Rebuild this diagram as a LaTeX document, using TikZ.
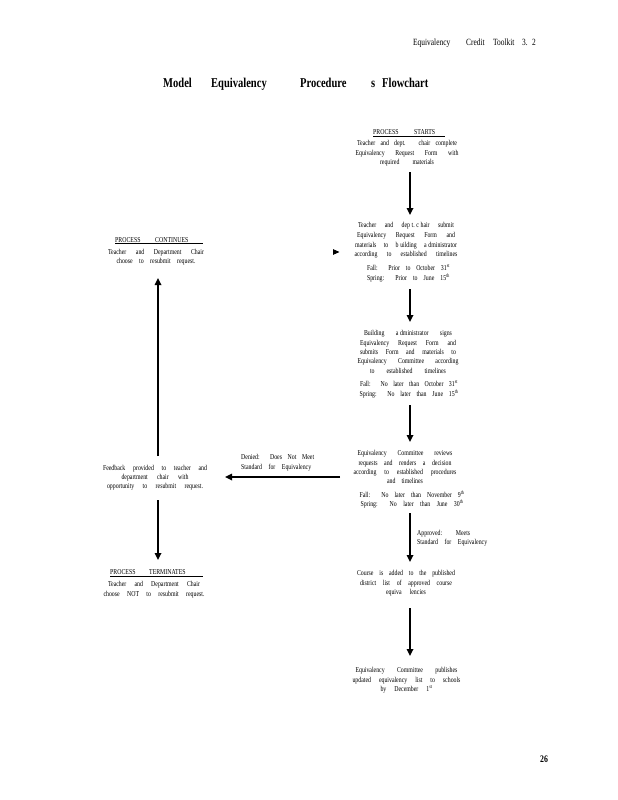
\documentclass[tikz,border=0pt]{standalone}
\usepackage{fontspec}
\setmainfont{Liberation Serif}[FakeStretch=0.78]
\usetikzlibrary{arrows.meta}
\newcommand\jline[2]{\makebox[#1pt][s]{#2}}
\newcommand\gp{\hspace{1.6pt}}
\tikzset{
  txt/.style={inner sep=0pt, align=center, anchor=north, font=\fontsize{7.5}{#1}\selectfont},
  txt/.default=9.5,
  ltxt/.style={inner sep=0pt, align=left, anchor=north west, font=\fontsize{7.5}{#1}\selectfont},
  ltxt/.default=9.5,
  head/.style={inner sep=0pt, anchor=base west, font=\fontsize{7.5}{9}\selectfont},
  uline/.style={line width=0.8pt},
  arr/.style={line width=1.6pt, -{Triangle[length=7pt,width=6.5pt]}},
  word/.style={inner sep=0pt, anchor=base west},
}
\begin{document}
\begin{tikzpicture}[x=1pt,y=-1pt]
\fill[white] (0,0) rectangle (618,800);
\useasboundingbox (0,0) rectangle (618,800);

% running header
\node[word, font=\fontsize{9.5}{11}\selectfont] (h1) at (413,46) {Equivalency};
\node[word, font=\fontsize{9.5}{11}\selectfont] (h2) at (466,46) {Credit};
\node[word, font=\fontsize{9.5}{11}\selectfont] (h3) at (493,46) {Toolkit};
\node[word, font=\fontsize{9.5}{11}\selectfont] (h4) at (522,46) {3.};
\node[word, font=\fontsize{9.5}{11}\selectfont] (h5) at (532,46) {2};

% title
\node[word, font=\fontsize{13.5}{15}\bfseries] (t1) at (163,88) {Model};
\node[word, font=\fontsize{13.5}{15}\bfseries] (t2) at (211,88) {Equivalency};
\node[word, font=\fontsize{13.5}{15}\bfseries] (t3) at (300,88) {Procedure};
\node[word, font=\fontsize{13.5}{15}\bfseries] (t4) at (371,88) {s};
\node[word, font=\fontsize{13.5}{15}\bfseries] (t5) at (382,88) {Flowchart};

% page number
\node[word, font=\fontsize{10}{12}\bfseries] (pg) at (540,762) {26};

% ---------- right column ----------
\node[head] (hs) at (373,134.5) {\makebox[41pt][l]{PROCESS}STARTS};
\draw[uline] (hs.base west) ++(0,1.5) -- ++(72,0);
\node[txt=9.5] (b1) at (407,140.4) {\jline{100}{Teacher and dept. chair complete}\\
  \jline{103}{Equivalency Request Form with}\\ \jline{54}{required materials}};

\node[txt=9.7] (b2) at (406,222.4) {\jline{96}{Teacher and dep\gp t.\gp c\gp hair submit}\\
  \jline{98}{Equivalency Request Form and}\\
  \jline{102}{materials to b\gp uilding a\gp dministrator}\\
  \jline{103}{according to established timelines}};
\node[txt=10] (f2) at (408.5,264.4) {\jline{83}{Fall: Prior to October 31\textsuperscript{st}}\\
  \jline{83}{Spring: Prior to June 15\textsuperscript{th}}};

\node[txt=9.3] (b3) at (408,330.4) {\jline{88}{Building a\gp dministrator signs}\\
  \jline{96}{Equivalency Request Form and}\\
  \jline{96}{submits Form and materials to}\\
  \jline{101}{Equivalency Committee according}\\
  \jline{76}{to established timelines}};
\node[txt=9.5] (f3) at (409,380.4) {\jline{98}{Fall: No later than October 31\textsuperscript{st}}\\
  \jline{99}{Spring: No later than June 15\textsuperscript{th}}};

\node[txt=9.3] (b4) at (405,450.4) {\jline{95}{Equivalency Committee reviews}\\
  \jline{93}{requests and renders a decision}\\
  \jline{103}{according to established procedures}\\
  \jline{36}{and timelines}};
\node[txt=9.2] (f4) at (412,490.4) {\jline{105}{Fall: No later than November 9\textsuperscript{th}}\\
  \jline{103}{Spring: No later than June 30\textsuperscript{th}}};

\node[ltxt=8.7] (ap) at (417,530.4) {\jline{53}{Approved: Meets}\\ \jline{70}{Standard for Equivalency}};

\node[txt=9.5] (b5) at (406,570.4) {\jline{98}{Course is added to the published}\\
  \jline{92}{district list of approved course}\\
  \jline{40}{equiva lencies}};

\node[txt=9.2] (b6) at (406.5,667.4) {\jline{102}{Equivalency Committee publishes}\\
  \jline{108}{updated equivalency list to schools}\\
  \jline{52}{by December 1\textsuperscript{st}}};

% ---------- left column ----------
\node[head] (hc) at (115,242) {\makebox[40pt][l]{PROCESS}CONTINUES};
\draw[uline] (hc.base west) ++(0,1.8) -- ++(88,0);
\node[txt=8.6] (lc) at (156,249.4) {\jline{96}{Teacher and Department Chair}\\
  \jline{79}{choose to resubmit request.}};

\node[txt=8.7] (fb) at (155,465.4) {\jline{104}{Feedback provided to teacher and}\\
  \jline{67}{department chair with}\\
  \jline{96}{opportunity to resubmit request.}};

\node[ltxt=10] (dn) at (241,454.4) {\jline{73}{Denied: Does Not Meet}\\ \jline{70}{Standard for Equivalency}};

\node[head] (ht) at (110,574.5) {\makebox[39pt][l]{PROCESS}TERMINATES};
\draw[uline] (ht.base west) ++(0,2) -- ++(93,0);
\node[txt=10] (lt) at (154,581.4) {\jline{92}{Teacher and Department Chair}\\
  \jline{101}{choose NOT to resubmit request.}};

% ---------- connectors ----------
\coordinate (a1s) at (410,172); \coordinate (a1e) at (410,215);
\coordinate (a2s) at (410,289); \coordinate (a2e) at (410,322);
\coordinate (a3s) at (410,405); \coordinate (a3e) at (410,442);
\coordinate (a4s) at (410,513); \coordinate (a4e) at (410,562);
\coordinate (a5s) at (410,608); \coordinate (a5e) at (410,656);
\coordinate (ls) at (340,477); \coordinate (le) at (225,477);
\coordinate (us) at (158,456); \coordinate (ue) at (158,278);
\coordinate (ds) at (158,500); \coordinate (de) at (158,560);
\coordinate (ss) at (333,252); \coordinate (se) at (339.5,252);

\draw[arr] (a1s) -- (a1e);
\draw[arr] (a2s) -- (a2e);
\draw[arr] (a3s) -- (a3e);
\draw[arr] (a4s) -- (a4e);
\draw[arr] (a5s) -- (a5e);
\draw[arr] (ls) -- (le);
\draw[arr] (us) -- (ue);
\draw[arr] (ds) -- (de);
\draw[line width=0.8pt, -{Triangle[length=6.5pt,width=5.5pt]}] (ss) -- (se);
\end{tikzpicture}
\end{document}
